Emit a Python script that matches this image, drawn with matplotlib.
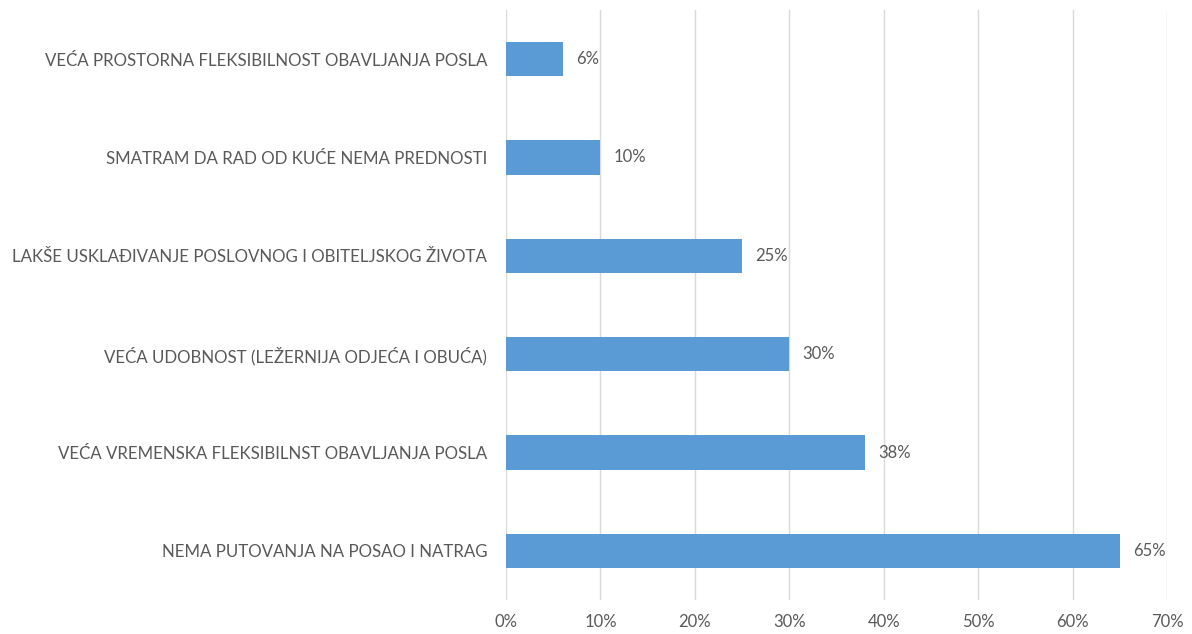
import matplotlib
matplotlib.use("Agg")
import matplotlib.pyplot as plt
from matplotlib.ticker import FuncFormatter

categories = [
    "NEMA PUTOVANJA NA POSAO I NATRAG",
    "VEĆA VREMENSKA FLEKSIBILNST OBAVLJANJA POSLA",
    "VEĆA UDOBNOST (LEŽERNIJA ODJEĆA I OBUĆA)",
    "LAKŠE USKLAĐIVANJE POSLOVNOG I OBITELJSKOG ŽIVOTA",
    "SMATRAM DA RAD OD KUĆE NEMA PREDNOSTI",
    "VEĆA PROSTORNA FLEKSIBILNOST OBAVLJANJA POSLA",
]
values = [65, 38, 30, 25, 10, 6]
xticks = [0, 10, 20, 30, 40, 50, 60, 70]

plt.rcParams['font.family'] = ['Lato', 'DejaVu Sans']
text_color = "#595959"
bar_color = "#5B9BD5"

fig = plt.figure(figsize=(11.92, 6.34), dpi=100)
ax = fig.add_axes([506/1192, 1 - 600/634, (1167-506)/1192, 590/634])

ypos = list(range(len(categories)))
ax.barh(ypos, values, height=0.35, color=bar_color, zorder=3)
for y, v in zip(ypos, values):
    ax.text(v + 1.4, y, f"{v}%", va="center", ha="left", fontsize=12, color=text_color)

ax.set_xlim(0, 70)
ax.set_ylim(-0.5, len(categories) - 0.5)
ax.set_xticks(xticks)
ax.xaxis.set_major_formatter(FuncFormatter(lambda x, p: f"{int(x)}%"))
ax.set_yticks(ypos)
ax.set_yticklabels(categories)
ax.tick_params(axis="both", length=0, colors=text_color, labelsize=12)
ax.tick_params(axis="y", pad=13.5, labelsize=12.2)
ax.tick_params(axis="x", pad=10)
ax.grid(axis="x", color="#D9D9D9", linewidth=1, zorder=0)
for s in ax.spines.values():
    s.set_visible(False)

fig.savefig("out.png", dpi=100)
